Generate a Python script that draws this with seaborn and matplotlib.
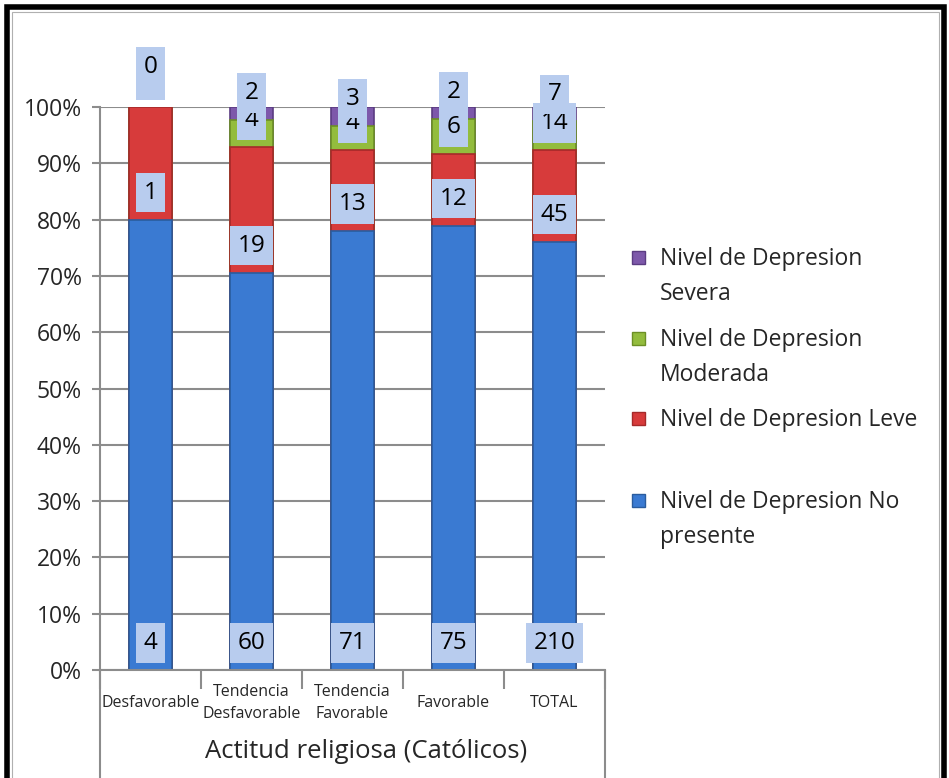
import matplotlib
matplotlib.use("Agg")
import matplotlib.pyplot as plt
import matplotlib.patches as mpatches
import seaborn as sns
import pandas as pd
import numpy as np

# datos
categorias = ["Desfavorable", "Tendencia\nDesfavorable", "Tendencia\nFavorable", "Favorable", "TOTAL"]
no_presente = [4, 60, 71, 75, 210]
leve = [1, 19, 13, 12, 45]
moderada = [0, 4, 4, 6, 14]
severa = [0, 2, 3, 2, 7]
series = ["Nivel de Depresion No\npresente", "Nivel de Depresion Leve",
          "Nivel de Depresion\nModerada", "Nivel de Depresion\nSevera"]
ticks_y = [0, 0.1, 0.2, 0.3, 0.4, 0.5, 0.6, 0.7, 0.8, 0.9, 1.0]

colores = ["#3A7AD2", "#D73B3B", "#93BC3D", "#7D58AA"]
bordes = ["#2A5C9E", "#A52A2A", "#6C8F25", "#5B3C82"]
gris = "#8C8C8C"

sns.set_style("white")
plt.rcParams['font.family'] = ['Open Sans', 'DejaVu Sans']

counts = np.array([no_presente, leve, moderada, severa], dtype=float)
pct = counts / counts.sum(axis=0)
cum = pct.cumsum(axis=0)
bases = cum - pct

fig = plt.figure(figsize=(9.49, 7.78), dpi=100)
ax = fig.add_axes([100/949, 1 - 670/778, 505/949, 563/778])

# barras apiladas: se dibuja la suma acumulada de arriba hacia abajo
for i in range(3, -1, -1):
    df = pd.DataFrame({"cat": categorias, "val": cum[i]})
    sns.barplot(data=df, x="cat", y="val", color=colores[i], width=0.42,
                edgecolor=bordes[i], linewidth=1.2, saturation=1, ax=ax, zorder=2)

# etiquetas de datos (posicion: base interior)
for j in range(len(categorias)):
    prev = None
    extra = 0
    for i in range(4):
        b = bases[i, j]
        if prev is not None and abs(b - prev) < 1e-9:
            extra += 13
        else:
            extra = 0
        prev = b
        ax.annotate(str(int(counts[i, j])), xy=(j, b), xytext=(0, 27 + extra),
                    textcoords="offset pixels", ha="center", va="center",
                    fontsize=17.5, color="black", zorder=6, annotation_clip=False,
                    bbox=dict(boxstyle="square,pad=0.32", fc="#B8CCEE", ec="none"))

ax.set_ylim(0, 1)
ax.set_xlim(-0.5, 4.5)
ax.set_yticks(ticks_y)
ax.set_yticklabels([f"{int(round(t*100))}%" for t in ticks_y])
ax.yaxis.grid(True, color=gris, linewidth=1.5)
ax.xaxis.grid(False)
ax.set_axisbelow(True)
for s in ["top", "right"]:
    ax.spines[s].set_visible(False)
for s in ["left", "bottom"]:
    ax.spines[s].set_color(gris)
    ax.spines[s].set_linewidth(1.5)

ax.tick_params(axis="y", length=6, width=1.5, color=gris, labelsize=16.5, pad=7, left=True)
ax.set_xticks(range(len(categorias)))
ax.set_xticklabels(categorias, fontsize=11.5, linespacing=1.5)
for lab in ax.get_xticklabels():
    lab.set_va("center")
ax.tick_params(axis="x", which="major", length=0, pad=24)
ax.set_xticks(np.arange(-0.5, 5, 1), minor=True)
ax.tick_params(axis="x", which="minor", length=14, width=1.5, color=gris, bottom=True)

# lineas de la caja del eje de categorias
for xa in [0, 1]:
    ax.plot([xa, xa], [0, -0.2], transform=ax.transAxes, color=gris, lw=1.5, clip_on=False)

ax.set_xlabel("Actitud religiosa (Católicos)", fontsize=18.5)
ax.xaxis.set_label_coords((366 - 100)/505, -82/563)
ax.xaxis.label.set_va("center")
ax.set_ylabel("")

# leyenda
ys = [257, 338, 418, 500]
orden = [3, 2, 1, 0]
for y, i in zip(ys, orden):
    fig.add_artist(mpatches.Rectangle((632/949, 1 - (y + 7)/778), 13/949, 13/778,
                                      transform=fig.transFigure, fc=colores[i], ec=bordes[i], lw=1))
    fig.text(660/949, 1 - (y - 10)/778, series[i], fontsize=16.5, va="top", ha="left",
             linespacing=1.6)

# marco
fig.add_artist(mpatches.Rectangle((7/949, -0.05), 937/949, 1.05 - 7/778, transform=fig.transFigure,
                                  fill=False, ec="black", lw=4))
fig.add_artist(mpatches.Rectangle((12/949, -0.05), 927/949, 1.05 - 12/778, transform=fig.transFigure,
                                  fill=False, ec="#B0B0B0", lw=0.8))

fig.savefig("out.png", dpi=100)
